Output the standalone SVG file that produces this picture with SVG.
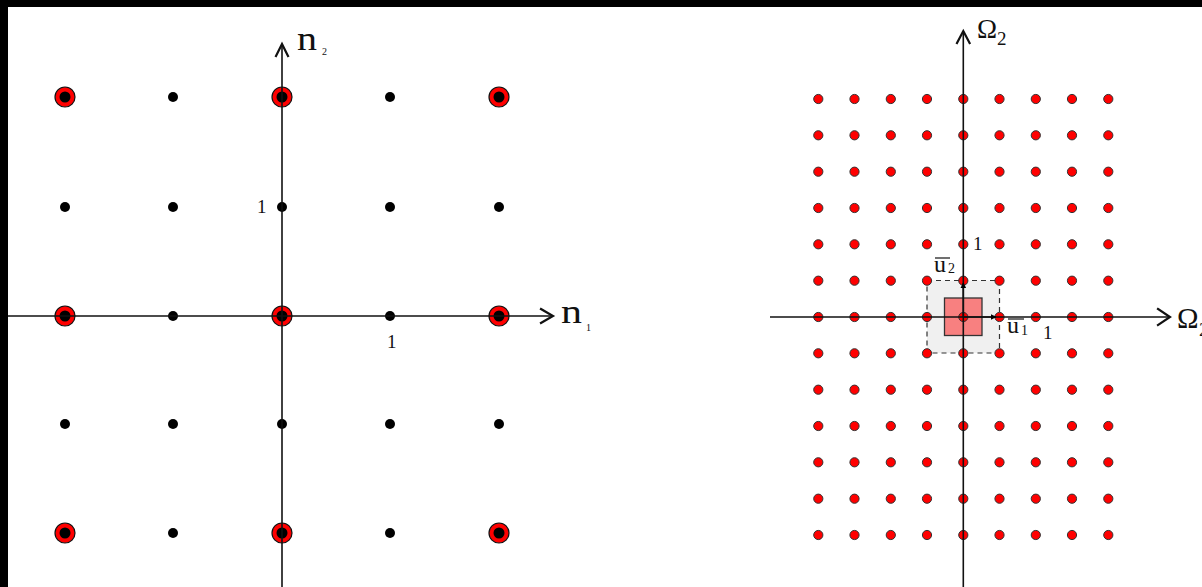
<svg xmlns="http://www.w3.org/2000/svg" width="1202" height="587" viewBox="0 0 1202 587">
<defs>
<style>
.axis{stroke:#111;stroke-width:1.6;fill:none}
.head{stroke:#111;stroke-width:2.2;fill:none;stroke-linecap:square}
.ring{fill:#ff0000;stroke:#111;stroke-width:1.2}
.core{fill:#000}
.bdot{fill:#000}
.rdot{fill:#ff0000;stroke:#333;stroke-width:1}
.lbl{font-family:"Liberation Serif","Times New Roman",serif;fill:#111}
.ovl{stroke:#111;stroke-width:1.2}
</style>
<marker id="tri" viewBox="0 0 10 10" refX="9" refY="5" markerWidth="6" markerHeight="6" orient="auto" markerUnits="userSpaceOnUse">
<path d="M0,0 L10,5 L0,10 z" fill="#000"/>
</marker>
</defs>
<rect x="0" y="0" width="1202" height="587" fill="#ffffff"/>
<rect x="0" y="0" width="1202" height="7" fill="#000"/>
<rect x="0" y="0" width="8" height="587" fill="#000"/>

<!-- Left lattice -->
<g id="left-lattice">
<g id="l-small">
<circle class="bdot" cx="173" cy="97" r="5"/>
<circle class="bdot" cx="390" cy="97" r="5"/>
<circle class="bdot" cx="65" cy="207" r="5"/>
<circle class="bdot" cx="173" cy="207" r="5"/>
<circle class="bdot" cx="282" cy="207" r="5"/>
<circle class="bdot" cx="390" cy="207" r="5"/>
<circle class="bdot" cx="499" cy="207" r="5"/>
<circle class="bdot" cx="173" cy="316" r="5"/>
<circle class="bdot" cx="390" cy="316" r="5"/>
<circle class="bdot" cx="65" cy="424" r="5"/>
<circle class="bdot" cx="173" cy="424" r="5"/>
<circle class="bdot" cx="282" cy="424" r="5"/>
<circle class="bdot" cx="390" cy="424" r="5"/>
<circle class="bdot" cx="499" cy="424" r="5"/>
<circle class="bdot" cx="173" cy="533" r="5"/>
<circle class="bdot" cx="390" cy="533" r="5"/>
</g>
<g id="l-ringed">
<circle class="ring" cx="65" cy="97" r="10"/><circle class="core" cx="65" cy="97" r="5.5"/>
<circle class="ring" cx="282" cy="97" r="10"/><circle class="core" cx="282" cy="97" r="5.5"/>
<circle class="ring" cx="499" cy="97" r="10"/><circle class="core" cx="499" cy="97" r="5.5"/>
<circle class="ring" cx="65" cy="316" r="10"/><circle class="core" cx="65" cy="316" r="5.5"/>
<circle class="ring" cx="282" cy="316" r="10"/><circle class="core" cx="282" cy="316" r="5.5"/>
<circle class="ring" cx="499" cy="316" r="10"/><circle class="core" cx="499" cy="316" r="5.5"/>
<circle class="ring" cx="65" cy="533" r="10"/><circle class="core" cx="65" cy="533" r="5.5"/>
<circle class="ring" cx="282" cy="533" r="10"/><circle class="core" cx="282" cy="533" r="5.5"/>
<circle class="ring" cx="499" cy="533" r="10"/><circle class="core" cx="499" cy="533" r="5.5"/>
</g>
</g>

<!-- Right lattice -->
<g id="right-lattice">
<rect id="cell" x="927" y="280.5" width="72.5" height="72.5" fill="#f0f0f0" stroke="#333" stroke-width="1.2" stroke-dasharray="5,4"/>
<rect id="pink" x="944.5" y="298" width="37.5" height="37.5" fill="#f88080" stroke="#333" stroke-width="1.3"/>
<g id="r-dots">
<circle class="rdot" cx="818.3" cy="99" r="4.6"/><circle class="rdot" cx="854.5" cy="99" r="4.6"/><circle class="rdot" cx="890.8" cy="99" r="4.6"/><circle class="rdot" cx="927" cy="99" r="4.6"/><circle class="rdot" cx="963.3" cy="99" r="4.6"/><circle class="rdot" cx="999.5" cy="99" r="4.6"/><circle class="rdot" cx="1035.8" cy="99" r="4.6"/><circle class="rdot" cx="1072" cy="99" r="4.6"/><circle class="rdot" cx="1108.3" cy="99" r="4.6"/>
<circle class="rdot" cx="818.3" cy="135.3" r="4.6"/><circle class="rdot" cx="854.5" cy="135.3" r="4.6"/><circle class="rdot" cx="890.8" cy="135.3" r="4.6"/><circle class="rdot" cx="927" cy="135.3" r="4.6"/><circle class="rdot" cx="963.3" cy="135.3" r="4.6"/><circle class="rdot" cx="999.5" cy="135.3" r="4.6"/><circle class="rdot" cx="1035.8" cy="135.3" r="4.6"/><circle class="rdot" cx="1072" cy="135.3" r="4.6"/><circle class="rdot" cx="1108.3" cy="135.3" r="4.6"/>
<circle class="rdot" cx="818.3" cy="171.7" r="4.6"/><circle class="rdot" cx="854.5" cy="171.7" r="4.6"/><circle class="rdot" cx="890.8" cy="171.7" r="4.6"/><circle class="rdot" cx="927" cy="171.7" r="4.6"/><circle class="rdot" cx="963.3" cy="171.7" r="4.6"/><circle class="rdot" cx="999.5" cy="171.7" r="4.6"/><circle class="rdot" cx="1035.8" cy="171.7" r="4.6"/><circle class="rdot" cx="1072" cy="171.7" r="4.6"/><circle class="rdot" cx="1108.3" cy="171.7" r="4.6"/>
<circle class="rdot" cx="818.3" cy="208" r="4.6"/><circle class="rdot" cx="854.5" cy="208" r="4.6"/><circle class="rdot" cx="890.8" cy="208" r="4.6"/><circle class="rdot" cx="927" cy="208" r="4.6"/><circle class="rdot" cx="963.3" cy="208" r="4.6"/><circle class="rdot" cx="999.5" cy="208" r="4.6"/><circle class="rdot" cx="1035.8" cy="208" r="4.6"/><circle class="rdot" cx="1072" cy="208" r="4.6"/><circle class="rdot" cx="1108.3" cy="208" r="4.6"/>
<circle class="rdot" cx="818.3" cy="244.3" r="4.6"/><circle class="rdot" cx="854.5" cy="244.3" r="4.6"/><circle class="rdot" cx="890.8" cy="244.3" r="4.6"/><circle class="rdot" cx="927" cy="244.3" r="4.6"/><circle class="rdot" cx="963.3" cy="244.3" r="4.6"/><circle class="rdot" cx="999.5" cy="244.3" r="4.6"/><circle class="rdot" cx="1035.8" cy="244.3" r="4.6"/><circle class="rdot" cx="1072" cy="244.3" r="4.6"/><circle class="rdot" cx="1108.3" cy="244.3" r="4.6"/>
<circle class="rdot" cx="818.3" cy="280.7" r="4.6"/><circle class="rdot" cx="854.5" cy="280.7" r="4.6"/><circle class="rdot" cx="890.8" cy="280.7" r="4.6"/><circle class="rdot" cx="927" cy="280.7" r="4.6"/><circle class="rdot" cx="963.3" cy="280.7" r="4.6"/><circle class="rdot" cx="999.5" cy="280.7" r="4.6"/><circle class="rdot" cx="1035.8" cy="280.7" r="4.6"/><circle class="rdot" cx="1072" cy="280.7" r="4.6"/><circle class="rdot" cx="1108.3" cy="280.7" r="4.6"/>
<circle class="rdot" cx="818.3" cy="317" r="4.6"/><circle class="rdot" cx="854.5" cy="317" r="4.6"/><circle class="rdot" cx="890.8" cy="317" r="4.6"/><circle class="rdot" cx="927" cy="317" r="4.6"/><circle class="rdot" cx="963.3" cy="317" r="4.6"/><circle class="rdot" cx="999.5" cy="317" r="4.6"/><circle class="rdot" cx="1035.8" cy="317" r="4.6"/><circle class="rdot" cx="1072" cy="317" r="4.6"/><circle class="rdot" cx="1108.3" cy="317" r="4.6"/>
<circle class="rdot" cx="818.3" cy="353.3" r="4.6"/><circle class="rdot" cx="854.5" cy="353.3" r="4.6"/><circle class="rdot" cx="890.8" cy="353.3" r="4.6"/><circle class="rdot" cx="927" cy="353.3" r="4.6"/><circle class="rdot" cx="963.3" cy="353.3" r="4.6"/><circle class="rdot" cx="999.5" cy="353.3" r="4.6"/><circle class="rdot" cx="1035.8" cy="353.3" r="4.6"/><circle class="rdot" cx="1072" cy="353.3" r="4.6"/><circle class="rdot" cx="1108.3" cy="353.3" r="4.6"/>
<circle class="rdot" cx="818.3" cy="389.7" r="4.6"/><circle class="rdot" cx="854.5" cy="389.7" r="4.6"/><circle class="rdot" cx="890.8" cy="389.7" r="4.6"/><circle class="rdot" cx="927" cy="389.7" r="4.6"/><circle class="rdot" cx="963.3" cy="389.7" r="4.6"/><circle class="rdot" cx="999.5" cy="389.7" r="4.6"/><circle class="rdot" cx="1035.8" cy="389.7" r="4.6"/><circle class="rdot" cx="1072" cy="389.7" r="4.6"/><circle class="rdot" cx="1108.3" cy="389.7" r="4.6"/>
<circle class="rdot" cx="818.3" cy="426" r="4.6"/><circle class="rdot" cx="854.5" cy="426" r="4.6"/><circle class="rdot" cx="890.8" cy="426" r="4.6"/><circle class="rdot" cx="927" cy="426" r="4.6"/><circle class="rdot" cx="963.3" cy="426" r="4.6"/><circle class="rdot" cx="999.5" cy="426" r="4.6"/><circle class="rdot" cx="1035.8" cy="426" r="4.6"/><circle class="rdot" cx="1072" cy="426" r="4.6"/><circle class="rdot" cx="1108.3" cy="426" r="4.6"/>
<circle class="rdot" cx="818.3" cy="462.3" r="4.6"/><circle class="rdot" cx="854.5" cy="462.3" r="4.6"/><circle class="rdot" cx="890.8" cy="462.3" r="4.6"/><circle class="rdot" cx="927" cy="462.3" r="4.6"/><circle class="rdot" cx="963.3" cy="462.3" r="4.6"/><circle class="rdot" cx="999.5" cy="462.3" r="4.6"/><circle class="rdot" cx="1035.8" cy="462.3" r="4.6"/><circle class="rdot" cx="1072" cy="462.3" r="4.6"/><circle class="rdot" cx="1108.3" cy="462.3" r="4.6"/>
<circle class="rdot" cx="818.3" cy="498.7" r="4.6"/><circle class="rdot" cx="854.5" cy="498.7" r="4.6"/><circle class="rdot" cx="890.8" cy="498.7" r="4.6"/><circle class="rdot" cx="927" cy="498.7" r="4.6"/><circle class="rdot" cx="963.3" cy="498.7" r="4.6"/><circle class="rdot" cx="999.5" cy="498.7" r="4.6"/><circle class="rdot" cx="1035.8" cy="498.7" r="4.6"/><circle class="rdot" cx="1072" cy="498.7" r="4.6"/><circle class="rdot" cx="1108.3" cy="498.7" r="4.6"/>
<circle class="rdot" cx="818.3" cy="535" r="4.6"/><circle class="rdot" cx="854.5" cy="535" r="4.6"/><circle class="rdot" cx="890.8" cy="535" r="4.6"/><circle class="rdot" cx="927" cy="535" r="4.6"/><circle class="rdot" cx="963.3" cy="535" r="4.6"/><circle class="rdot" cx="999.5" cy="535" r="4.6"/><circle class="rdot" cx="1035.8" cy="535" r="4.6"/><circle class="rdot" cx="1072" cy="535" r="4.6"/><circle class="rdot" cx="1108.3" cy="535" r="4.6"/>
</g>
</g>

<!-- Axes and vectors -->
<g id="connectors">
<line class="axis" x1="282" y1="44" x2="282" y2="587"/>
<polyline class="head" points="276,56 282,44 288,56"/>
<line class="axis" x1="8" y1="316" x2="553" y2="316"/>
<polyline class="head" points="541,309 553,316 541,323"/>
<line class="axis" x1="963.3" y1="31" x2="963.3" y2="587"/>
<polyline class="head" points="957,43 963.3,31 969.6,43"/>
<line class="axis" x1="770" y1="317" x2="1170" y2="317"/>
<polyline class="head" points="1158,309 1170,317 1158,325"/>
<line x1="963.3" y1="317" x2="996" y2="317" stroke="#111" stroke-width="1.6" marker-end="url(#tri)"/>
<line x1="963.3" y1="317" x2="963.3" y2="283" stroke="#111" stroke-width="1.6" marker-end="url(#tri)"/>
</g>

<!-- Labels -->
<g id="labels">
<text class="lbl" x="297" y="50" font-size="34" textLength="20" lengthAdjust="spacingAndGlyphs">n</text>
<text class="lbl" x="322" y="55" font-size="10">2</text>
<text class="lbl" x="561" y="323" font-size="34" textLength="21" lengthAdjust="spacingAndGlyphs">n</text>
<text class="lbl" x="586" y="331" font-size="10">1</text>
<text class="lbl" x="257" y="213" font-size="19">1</text>
<text class="lbl" x="387" y="348" font-size="19">1</text>
<text class="lbl" x="977" y="38" font-size="27">Ω</text>
<text class="lbl" x="997" y="45" font-size="19">2</text>
<text class="lbl" x="1177" y="328" font-size="29">Ω</text>
<text class="lbl" x="1199" y="336" font-size="19">2</text>
<text class="lbl" x="934" y="272" font-size="24">u</text>
<line class="ovl" x1="935" y1="258" x2="950" y2="258"/>
<text class="lbl" x="948" y="273" font-size="14">2</text>
<text class="lbl" x="1007" y="333" font-size="24">u</text>
<line class="ovl" x1="1008" y1="319" x2="1024" y2="319"/>
<text class="lbl" x="1021" y="335" font-size="14">1</text>
<text class="lbl" x="1043" y="339" font-size="19">1</text>
<text class="lbl" x="973" y="250" font-size="19">1</text>
</g>
</svg>
